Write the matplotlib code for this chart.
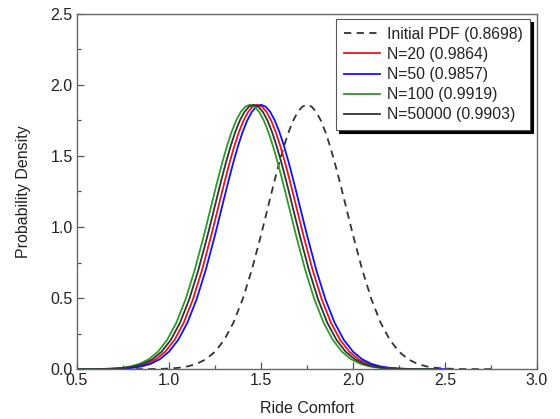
import matplotlib
matplotlib.use("Agg")
import numpy as np
import matplotlib.pyplot as plt
from matplotlib.ticker import MultipleLocator

plt.rcParams['font.family'] = ['Liberation Sans', 'DejaVu Sans']

# bell profile: offset from peak location -> density
offsets = [-1.0, -0.95, -0.9, -0.85, -0.8, -0.75, -0.7, -0.65, -0.6, -0.55,
           -0.5, -0.45, -0.4, -0.35, -0.3, -0.25, -0.225, -0.2, -0.175, -0.15,
           -0.125, -0.1, -0.075, -0.05, -0.025, 0.0, 0.025, 0.05, 0.075, 0.1,
           0.125, 0.15, 0.175, 0.2, 0.225, 0.25, 0.3, 0.35, 0.4, 0.45,
           0.5, 0.55, 0.6, 0.65, 0.7, 0.75, 0.8, 0.85, 0.9, 0.95, 1.0]
density = [0.0, 0.0001, 0.0003, 0.0007, 0.0018, 0.0041, 0.0091, 0.0189, 0.0372, 0.0695,
           0.1229, 0.2060, 0.3268, 0.4913, 0.6994, 0.9430, 1.0729, 1.2042, 1.3334, 1.4565,
           1.5695, 1.6684, 1.7496, 1.8101, 1.8473, 1.8600, 1.8473, 1.8101, 1.7496, 1.6684,
           1.5695, 1.4565, 1.3334, 1.2042, 1.0729, 0.9430, 0.6994, 0.4913, 0.3268, 0.2060,
           0.1229, 0.0695, 0.0372, 0.0189, 0.0091, 0.0041, 0.0018, 0.0007, 0.0003, 0.0001, 0.0]

labels = ['Initial PDF (0.8698)', 'N=20 (0.9864)', 'N=50 (0.9857)',
          'N=100 (0.9919)', 'N=50000 (0.9903)']
peaks = [1.75, 1.48, 1.50, 1.44, 1.46]
colors = ['#333333', '#e8141c', '#1010ff', '#2a9a2a', '#333333']
styles = ['--', '-', '-', '-', '-']

fig = plt.figure(figsize=(5.6, 4.19), dpi=100)
ax = fig.add_axes([0.1375, 0.119, 0.8215, 0.848])

off = np.array(offsets)
for lab, pk, c, ls in zip(labels, peaks, colors, styles):
    ax.plot(pk + off, density, color=c, linestyle=ls, lw=1.3, label=lab,
            dashes=(4, 3) if ls == '--' else (None, None))

ax.set_xlim(0.5, 3.0)
ax.set_ylim(0.0, 2.5)
ax.xaxis.set_major_locator(MultipleLocator(0.5))
ax.xaxis.set_minor_locator(MultipleLocator(0.25))
ax.yaxis.set_major_locator(MultipleLocator(0.5))
ax.yaxis.set_minor_locator(MultipleLocator(0.25))
ax.xaxis.set_major_formatter(plt.FormatStrFormatter('%.1f'))
ax.yaxis.set_major_formatter(plt.FormatStrFormatter('%.1f'))
ax.tick_params(which='both', direction='in', top=False, right=False,
               labelsize=11.5, colors='#555555', labelcolor='#222222')
ax.tick_params(which='major', length=5, width=0.9, pad=3)
ax.tick_params(which='minor', length=3, width=0.9)
for sp in ax.spines.values():
    sp.set_color('#666666')
    sp.set_linewidth(1.0)

ax.set_xlabel('Ride Comfort', fontsize=11.5, color='#222222', labelpad=9)
ax.set_ylabel('Probability Density', fontsize=11.5, color='#222222', labelpad=14)

leg = ax.legend(loc='upper right', bbox_to_anchor=(0.985, 0.986), fancybox=False,
                shadow={'color': 'black', 'alpha': 1.0}, edgecolor='#555555',
                framealpha=1, fontsize=11.3, handlelength=2.3, handletextpad=0.4,
                labelspacing=0.33, borderpad=0.5, borderaxespad=0.0)
leg.get_frame().set_linewidth(0.8)
for t in leg.get_texts():
    t.set_color('#222222')

fig.savefig('out.png', dpi=100)
